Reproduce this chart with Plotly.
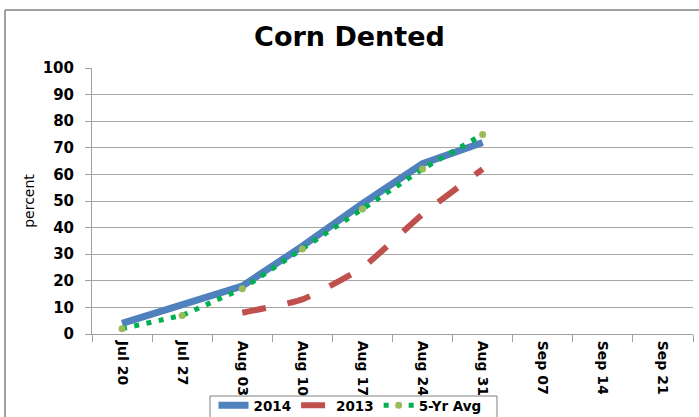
import plotly.graph_objects as go

categories = ["Jul 20", "Jul 27", "Aug 03", "Aug 10", "Aug 17", "Aug 24", "Aug 31", "Sep 07", "Sep 14", "Sep 21"]
y2014 = [4, 11, 18, 33, 49, 64, 72, None, None, None]
y2013 = [None, None, 8, 13, 25, 45, 62, None, None, None]
avg5 = [2, 7, 17, 32, 47, 62, 75, None, None, None]
y_ticks = [0, 10, 20, 30, 40, 50, 60, 70, 80, 90, 100]

FONT = "DejaVu Sans"

fig = go.Figure()
fig.add_trace(go.Scatter(x=categories, y=y2014, name="2014", mode="lines",
                         line=dict(color="#4F81BD", width=7)))
fig.add_trace(go.Scatter(x=categories, y=y2013, name="2013", mode="lines",
                         line=dict(color="#C0504D", width=6, dash="24px,22px", shape="spline", smoothing=0.5)))
fig.add_trace(go.Scatter(x=categories, y=avg5, name="5-Yr Avg", mode="lines+markers",
                         line=dict(color="#00B050", width=5, dash="5px,7.5px"),
                         marker=dict(color="#9BBB59", size=7)))

L, R, T, B = 92, 6, 68, 83
W, H = 699, 417
pw, ph = W - L - R, H - T - B

def px_x(x):
    return (x - L) / pw

def px_y(y):
    return (H - B - y) / ph

fig.update_layout(
    width=W, height=H,
    margin=dict(l=L, r=R, t=T, b=B, autoexpand=False),
    paper_bgcolor="white", plot_bgcolor="white",
    font=dict(family=FONT, color="#000000"),
    title=dict(text="<b>Corn Dented</b>", x=0.5, xanchor="center", y=1 - 37 / H, yanchor="middle",
               font=dict(size=27, family=FONT, color="#000000")),
    showlegend=True,
    legend=dict(orientation="h", x=px_x(350), xanchor="center", y=px_y(390), yanchor="top",
                borderwidth=0, bgcolor="rgba(0,0,0,0)",
                font=dict(size=13.5, family=FONT, weight="bold"),
                itemwidth=30, tracegroupgap=0),
    shapes=[
        dict(type="line", xref="paper", yref="paper", x0=px_x(5), x1=px_x(5), y0=px_y(10), y1=px_y(420),
             line=dict(color="#A0A0A0", width=2)),
        dict(type="line", xref="paper", yref="paper", x0=px_x(5), x1=px_x(702), y0=px_y(10), y1=px_y(10),
             line=dict(color="#A0A0A0", width=2)),
        dict(type="rect", xref="paper", yref="paper", x0=px_x(210), x1=px_x(497), y0=px_y(396), y1=px_y(422),
             line=dict(color="#808080", width=1), fillcolor="rgba(0,0,0,0)", layer="below"),
    ],
)

fig.update_xaxes(
    type="category", categoryorder="array", categoryarray=categories,
    range=[-0.5, len(categories) - 0.5], automargin=False,
    showgrid=False, showline=True, linecolor="#A0A0A0", linewidth=1,
    ticks="outside", tickson="boundaries", ticklen=7, tickcolor="#A0A0A0", ticklabelstandoff=3,
    tickangle=90, tickfont=dict(size=14, family=FONT, color="#000000", weight="bold"),
    fixedrange=True,
)
fig.update_yaxes(
    range=[0, 100], tickvals=y_ticks, ticktext=[str(v) for v in y_ticks], automargin=False,
    showgrid=True, gridcolor="#A6A6A6", gridwidth=1,
    showline=True, linecolor="#A0A0A0", linewidth=1,
    ticks="outside", ticklen=6, tickcolor="#A0A0A0", ticklabelstandoff=8,
    tickfont=dict(size=15, family=FONT, color="#000000", weight="bold"),
    title=dict(text="percent", font=dict(size=14, family=FONT, color="#000000"), standoff=4),
    zeroline=False, fixedrange=True,
)

fig.write_html(
    "out.html",
    config={"displayModeBar": False},
    post_script="document.body.style.margin='0';document.body.style.overflow='hidden';",
)
